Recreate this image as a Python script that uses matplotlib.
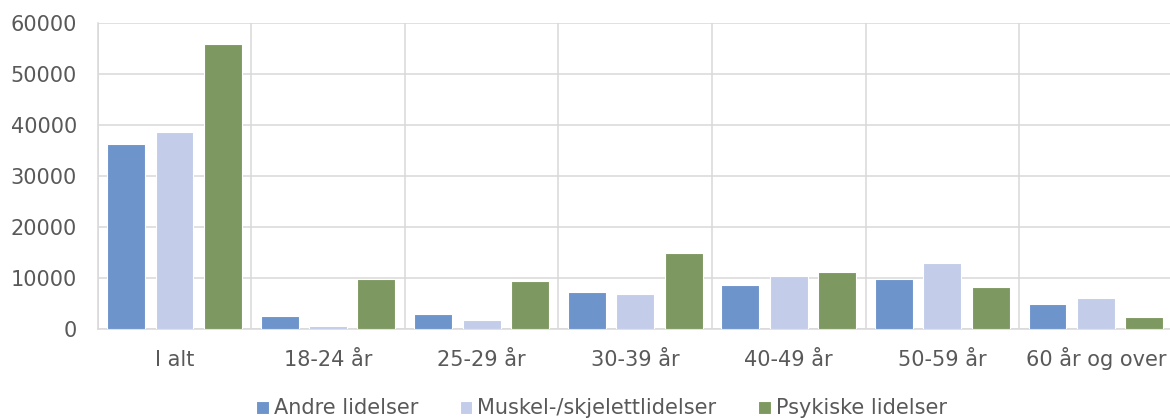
import numpy as np
import matplotlib
matplotlib.use("Agg")
import matplotlib.pyplot as plt

categories = ["I alt", "18-24 år", "25-29 år", "30-39 år", "40-49 år", "50-59 år", "60 år og over"]
series_names = ["Andre lidelser", "Muskel-/skjelettlidelser", "Psykiske lidelser"]
andre = [36200, 2550, 3000, 7300, 8600, 9780, 4950]
muskel = [38500, 650, 1700, 6800, 10300, 12970, 6000]
psykiske = [55800, 9780, 9450, 14800, 11200, 8150, 2400]
yticks = [0, 10000, 20000, 30000, 40000, 50000, 60000]

colors = ["#6d94cb", "#c3cde9", "#7e9861"]
text_color = "#595959"
grid_color = "#d9d9d9"

plt.rcParams["font.family"] = ["DejaVu Sans"]
plt.rcParams["font.size"] = 15

fig = plt.figure(figsize=(11.7, 4.18), dpi=100)
ax = fig.add_axes([0.0835, 0.2129, 0.9188, 0.7328])

x = np.arange(len(categories))
width = 0.247
offsets = [-0.315, 0.0, 0.315]
handles = []
for vals, off, col, name in zip([andre, muskel, psykiske], offsets, colors, series_names):
    b = ax.bar(x + off, vals, width, color=col, edgecolor="white", linewidth=0.8, label=name, zorder=3)
    handles.append(b)

ax.set_xlim(-0.5, len(categories) - 0.5)
ax.set_ylim(0, 60000)
ax.set_yticks(yticks)
ax.set_yticklabels([str(v) for v in yticks])
ax.set_xticks(x)
ax.set_xticklabels(categories, va="baseline")
ax.set_xticks(np.arange(-0.5, len(categories), 1), minor=True)

ax.tick_params(axis="both", which="both", length=0, colors=text_color, labelsize=15)
ax.tick_params(axis="y", pad=15)
ax.tick_params(axis="x", which="major", pad=26.6)
ax.grid(axis="y", which="major", color=grid_color, linewidth=1.1, zorder=0)
ax.grid(axis="x", which="minor", color=grid_color, linewidth=1.1, zorder=0)
ax.grid(axis="x", which="major", visible=False)
ax.set_axisbelow(True)
for side in ["top", "right"]:
    ax.spines[side].set_visible(False)
for side in ["left", "bottom"]:
    ax.spines[side].set_color(grid_color)
    ax.spines[side].set_linewidth(1.1)

fig.legend(handles=handles, labels=series_names, loc="center left",
           bbox_to_anchor=(256 / 1170, 1 - 408.5 / 418), ncol=3, frameon=False,
           handlelength=0.6, handleheight=0.6, handletextpad=0.25,
           columnspacing=2.0, borderpad=0, borderaxespad=0,
           labelcolor=text_color, fontsize=15)

fig.savefig("out.png", dpi=100)
